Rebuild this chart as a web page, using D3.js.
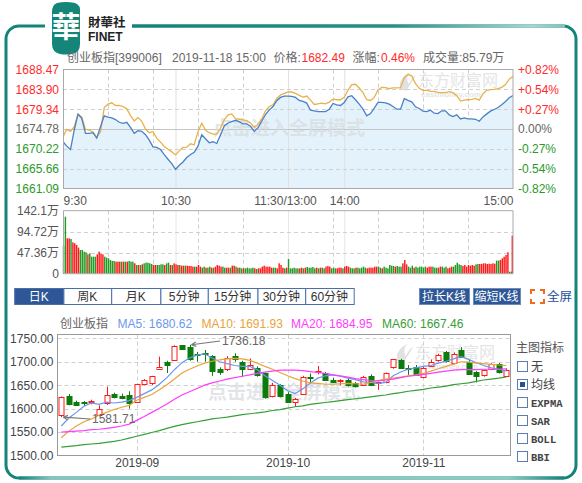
<!DOCTYPE html>
<html><head><meta charset="utf-8">
<script src="https://cdn.jsdelivr.net/npm/d3@7"></script>
<style>
body{margin:0;background:#fff;}
svg{display:block;}
</style></head><body>
<svg id="c" width="582" height="483"></svg>
<script>
// ---------------- DATA ----------------
const stockName = "创业板指[399006]";
const quoteTime = "2019-11-18 15:00";
const lastPrice = "1682.49";
const changePct = "0.46%";
const totalVol = "85.79万";

// intraday (sampled every 2 minutes), minute offsets from 9:30 (trading minutes)
const minutesAM = d3.range(0, 121, 2);
const minutesPM = d3.range(122, 241, 2);
const priceAM = [1671.84,1670.84,1670.06,1674.55,1678.18,1677.25,1673.77,1673.77,1673.93,1672.69,
1675.32,1677.80,1677.49,1677.33,1676.95,1676.33,1676.09,1676.33,1675.17,1673.77,
1674.39,1674.24,1673.47,1672.23,1670.68,1670.53,1670.06,1668.90,1667.82,1666.81,
1665.50,1666.43,1667.20,1668.21,1668.90,1669.44,1670.84,1673.47,1672.54,1671.61,
1671.84,1671.45,1673.39,1675.48,1676.17,1676.48,1676.79,1676.48,1675.94,1675.94,
1675.40,1674.24,1675.09,1676.56,1678.11,1679.19,1679.96,1681.28,1682.05,1682.36,1682.36];
const pricePM = [1682.28,1682.05,1681.35,1681.12,1680.74,1679.11,1678.96,1678.80,1678.80,1678.80,
1679.34,1680.66,1680.35,1680.19,1680.89,1682.20,1682.44,1681.51,1680.50,1679.34,
1677.80,1678.34,1679.58,1680.89,1680.89,1680.81,1680.50,1679.96,1679.34,1679.34,
1681.74,1681.35,1681.04,1679.88,1679.50,1678.88,1678.80,1679.11,1678.41,1678.34,
1678.96,1678.96,1678.03,1677.64,1678.03,1677.10,1677.33,1677.10,1677.10,1677.02,
1676.56,1677.56,1678.26,1678.88,1679.27,1679.73,1680.35,1681.12,1681.97,1682.49];
const leadAM = [1673.00,1674.70,1674.24,1675.32,1678.26,1677.49,1674.70,1674.55,1674.08,1672.85,
1674.16,1679.73,1680.50,1680.81,1680.19,1680.19,1679.96,1679.42,1677.87,1676.64,
1677.41,1676.56,1674.78,1673.93,1674.16,1672.69,1671.76,1670.76,1670.14,1669.52,
1668.82,1669.75,1670.53,1670.60,1671.38,1671.15,1674.16,1676.09,1674.47,1673.93,
1673.62,1673.62,1674.93,1676.87,1678.03,1678.26,1677.18,1677.02,1676.87,1676.71,
1676.17,1675.09,1675.86,1677.10,1678.96,1679.96,1680.35,1681.82,1682.59,1682.98,1683.29];
const leadPM = [1683.29,1682.98,1682.51,1682.13,1682.36,1681.43,1680.43,1680.58,1680.74,1680.58,
1680.97,1681.66,1681.51,1681.51,1682.05,1683.75,1684.99,1685.07,1684.22,1683.13,
1681.51,1681.35,1682.05,1683.75,1684.37,1684.29,1684.06,1684.22,1684.22,1684.29,
1686.54,1687.31,1687.00,1685.22,1684.14,1683.67,1683.67,1683.44,1683.44,1683.21,
1683.13,1683.13,1683.36,1683.13,1682.44,1681.20,1681.43,1681.51,1681.59,1681.82,
1681.43,1682.90,1683.67,1683.83,1683.91,1684.06,1684.37,1684.99,1686.23,1686.92];

// per-minute volume (万), direction r = up, g = down
const volAM = [62.5,128.6,79.8,79.8,78.3,70.8,68.6,64.8,58.8,53.5,
53.5,49.7,48.2,43.7,46.0,38.4,38.4,38.4,43.7,49.7,
45.0,43.7,38.4,36.2,34.7,30.9,28.7,28.7,27.2,27.2,
27.2,27.2,27.2,27.2,27.2,28.7,27.2,27.2,23.4,19.6,
19.6,19.6,21.1,23.4,24.9,24.9,23.4,21.9,19.6,19.6,
19.6,19.6,21.1,21.1,19.6,23.4,24.9,19.6,19.6,23.4,
21.1,19.6,19.6,18.1,18.1,18.1,18.1,17.4,17.4,15.9,
15.9,15.9,19.6,15.9,13.6,15.9,13.6,13.6,15.9,13.6,
13.6,15.9,19.6,18.1,15.9,15.9,13.6,13.6,13.6,13.6,
18.1,18.1,15.9,13.6,13.6,12.1,12.1,12.1,13.6,12.1,
12.1,13.6,12.1,10.6,12.1,12.1,15.9,18.1,15.9,15.9,
15.9,13.6,13.6,13.6,12.1,23.4,19.6,13.6,12.1,13.6,33.2];
const dirAM = "ggrrgrrrrg"+"gggrggggrr"+"rrggggggrr"+"rgrgrgggrg"+"rgrgggggrr"+"ggggrggrgr"+
"rrgrrgrrrr"+"grrrggrggr"+"grrrrggrrg"+"rrgrggrggg"+"ggrgrrrrrr"+"rrggrrrrgr"+"g";
const volPM = [12.1,12.1,13.6,12.1,12.1,12.1,13.6,12.1,13.6,15.1,
13.6,13.6,15.1,12.1,13.6,12.1,13.6,13.6,12.1,15.9,
17.4,15.9,12.1,13.6,12.1,12.1,13.6,13.6,12.1,15.9,
17.4,15.9,13.6,12.1,12.1,13.6,13.6,12.1,13.6,15.9,
13.6,12.1,13.6,13.6,13.6,15.9,15.9,15.9,13.6,12.1,
15.9,13.6,12.1,19.6,18.1,17.4,15.9,17.4,15.9,15.9,
23.4,30.9,21.1,15.9,13.6,18.1,13.6,15.9,13.6,15.9,
15.9,13.6,15.9,13.6,15.9,15.9,15.9,13.6,13.6,13.6,
15.9,15.9,13.6,15.9,12.1,13.6,15.9,15.9,19.6,24.9,
21.1,19.6,17.4,19.6,15.9,19.6,18.1,19.6,18.1,21.1,
21.9,21.9,21.9,23.4,23.4,21.9,22.6,21.9,23.4,22.6,
29.4,29.4,30.9,34.7,38.4,42.2,48.2,4.6,4.6,85.9];
const dirPM = "gggggrrgrg"+"ggggrgrggr"+"rrgggrrrgr"+"rrgggrgggg"+"grrrrrrggr"+"ggggggrggg"+
"rrrgggrggg"+"gggrrrgggr"+"rgggrrrggg"+"ggrrrrrrrg"+"grrrrrrrrr"+"ggrrrrrggr";

const priceTicks = [1688.47,1683.90,1679.34,1674.78,1670.22,1665.66,1661.09];
const priceTickLabels = ["1688.47","1683.90","1679.34","1674.78","1670.22","1665.66","1661.09"];
const pctTickLabels = ["+0.82%","+0.54%","+0.27%","0.00%","-0.27%","-0.54%","-0.82%"];
const timeTickMin = [0,60,120,150,240];
const timeTickLabels = ["9:30","10:30","11:30/13:00","14:00","15:00"];
const volTicks = [142.1,94.72,47.36,0];
const volTickLabels = ["142.1万","94.72万","47.36万","0"];

// daily K-line
const kDates = ["2019-08-19","2019-08-20","2019-08-21","2019-08-22","2019-08-23","2019-08-26","2019-08-27","2019-08-28","2019-08-29","2019-08-30",
"2019-09-02","2019-09-03","2019-09-04","2019-09-05","2019-09-06","2019-09-09","2019-09-10","2019-09-11","2019-09-12","2019-09-16",
"2019-09-17","2019-09-18","2019-09-19","2019-09-20","2019-09-23","2019-09-24","2019-09-25","2019-09-26","2019-09-27","2019-09-30",
"2019-10-08","2019-10-09","2019-10-10","2019-10-11","2019-10-14","2019-10-15","2019-10-16","2019-10-17","2019-10-18","2019-10-21",
"2019-10-22","2019-10-23","2019-10-24","2019-10-25","2019-10-28","2019-10-29","2019-10-30","2019-10-31","2019-11-01","2019-11-04",
"2019-11-05","2019-11-06","2019-11-07","2019-11-08","2019-11-11","2019-11-12","2019-11-13","2019-11-14","2019-11-15","2019-11-18"];
const kOpen = [1586,1626,1615,1614,1614,1588,1610,1631,1627,1630,1614,1652,1655,1684,1700,1704,1735,1732,1716,1718,
1712,1684,1684,1712,1700,1686,1686,1675,1627,1650,1632,1613,1632,1668,1678,1676,1662,1657,1661,1654,
1652,1670,1654,1656,1688,1704,1687,1689,1668,1692,1704,1721,1697,1725,1700,1678,1672,1685,1695,1670];
const kHigh = [1626,1631,1617,1616,1619,1607,1647,1634,1632,1637,1653,1663,1670,1711,1702,1735,1735.5,1736.18,1721,1725,
1714,1688,1712,1718,1702,1707,1690,1677,1655,1652,1635,1623,1670,1675,1691,1678,1666,1663,1665,1657,
1670,1673,1658,1677,1706,1706,1693,1693,1690,1705,1717,1723,1720,1731,1705,1680,1684,1697,1697,1686];
const kLow = [1581.71,1607,1607,1605,1609,1586,1608,1622,1620,1600,1613,1650,1650,1683,1676,1702,1725,1702,1700,1700,
1670,1672,1680,1700,1668,1682,1668,1621,1624,1624,1614,1604,1630,1655,1673,1660,1655,1650,1647,1645,
1650,1648,1640,1654,1685,1686,1672,1671,1665,1690,1700,1698,1694,1709,1672,1656,1668,1682,1675,1668];
const kClose = [1624,1610,1609,1612,1616,1600,1628,1624,1623,1612,1652,1660,1669,1689,1693,1733,1727,1706,1713,1716,
1679,1677,1707,1705,1686,1694,1672,1623,1650,1627,1616,1620,1668,1665,1681,1662,1658,1660,1650,1647,
1668,1651,1656,1675,1705,1688,1684,1672,1687,1700,1714,1701,1716,1711,1674,1670,1682,1695,1677,1682.49];
const ma5 = [1563,1580,1592,1605,1612,1609,1614,1612,1614,1617,1624,1632,1640,1652,1666,1683,1698,1708,1714,1717,
1708,1700,1696,1692,1690,1690,1683,1670,1660,1650,1638,1632,1642,1654,1665,1670,1672,1669,1665,1662,
1657,1656,1654,1656,1670,1678,1684,1687,1690,1692,1697,1701,1706,1711,1705,1698,1692,1687,1684,1680.62];
const ma10 = [1538,1552,1563,1572,1578,1586,1592,1598,1603,1607,1618,1624,1630,1640,1651,1663,1676,1684,1691,1697,
1701,1704,1706,1707,1706,1703,1697,1690,1684,1677,1670,1664,1659,1655,1654,1652,1652,1653,1654,1653,
1652,1656,1660,1663,1665,1667,1670,1672,1675,1680,1685,1690,1695,1700,1699,1697,1696,1694.5,1693,1691.93];
const ma20 = [1550,1551,1552,1553,1555,1556,1558,1560,1563,1567,1575,1583,1592,1601,1610,1620,1629,1636,1643,1650,
1655,1659,1663,1666,1669,1672,1675,1678,1680,1682,1682,1682,1681,1679,1677,1675,1672,1670,1667,1664,
1662,1660,1659,1661,1663,1666,1669,1671,1673,1675,1678,1680,1682,1683,1683,1683,1684,1684,1684,1684.95];
const ma60 = [1518,1519.5,1521,1523,1524.5,1526,1528,1530,1533,1537,1541,1545,1549,1553,1558,1562,1566,1569,1572,1575,
1578,1580,1582,1584.5,1587,1589,1591,1593,1596,1598,1601,1604,1606,1609,1611,1613,1615,1617,1619,1621,
1623,1625,1627,1629,1632,1634,1637,1639,1641,1644,1646,1648,1651,1653,1655,1658,1661,1663,1665,1667.46];
const maNames = ["MA5","MA10","MA20","MA60"];
const maLast = ["1680.62","1691.93","1684.95","1667.46"];
const kTicks = [1750,1700,1650,1600,1550,1500];
const monthTickDates = ["2019-09-02","2019-10-08","2019-11-01"];
const monthTickLabels = ["2019-09","2019-10","2019-11"];
const periodButtons = ["日K","周K","月K","5分钟","15分钟","30分钟","60分钟"];
const indicatorItems = ["无","均线","EXPMA","SAR","BOLL","BBI"];

// ---------------- STYLE ----------------
const FONT = '"Liberation Sans",Arial,"Noto Sans CJK SC",sans-serif';
const RED = "#ff2a2a", GREEN = "#2a9a2a", DKGREEN = "#0b7c0b";
const maColors = ["#6b97ee","#e8a43a","#ff3cff","#35a035"];

const svg = d3.select("#c").style("font-family", FONT);
const defs = svg.append("defs");

// ---------------- FRAME & LOGO ----------------
const teal = "#14837a";
svg.append("rect").attr("x",6).attr("y",26).attr("width",570).attr("height",452).attr("rx",13)
  .attr("fill","none").attr("stroke",teal).attr("stroke-width",3);
const gTop = defs.append("linearGradient").attr("id","gTop").attr("gradientUnits","userSpaceOnUse")
  .attr("x1",132).attr("x2",566).attr("y1",0).attr("y2",0);
[[0,teal],[0.6,"#2a8f86"],[0.92,"#a6d6d1"],[1,"#7fc0b9"]].forEach(s=>gTop.append("stop").attr("offset",s[0]).attr("stop-color",s[1]));
svg.append("line").attr("x1",132).attr("x2",565).attr("y1",26).attr("y2",26).attr("stroke","url(#gTop)").attr("stroke-width",3);
const gBot = defs.append("linearGradient").attr("id","gBot").attr("gradientUnits","userSpaceOnUse")
  .attr("x1",19).attr("x2",564).attr("y1",0).attr("y2",0);
[[0,teal],[0.06,"#86c6c0"],[0.9,"#8ccac4"],[1,teal]].forEach(s=>gBot.append("stop").attr("offset",s[0]).attr("stop-color",s[1]));
svg.append("line").attr("x1",19).attr("x2",564).attr("y1",478).attr("y2",478).attr("stroke","url(#gBot)").attr("stroke-width",3);
svg.append("rect").attr("x",45).attr("y",22).attr("width",87).attr("height",8).attr("fill","#fff");

svg.append("path").attr("d","M57,3 Q66,1 75,3 Q81,5 80,13 L80,44 Q80,53 72,54 Q66,55 60,54 Q52,52 52,44 L52,12 Q52,5 57,3 Z")
  .attr("fill","#168579");
svg.append("text").attr("x",66).attr("y",38).attr("text-anchor","middle").attr("fill","#fff")
  .attr("font-size",29).attr("font-weight","bold").attr("font-family",'"Noto Sans CJK TC","Noto Sans CJK SC",serif').text("華");
svg.append("text").attr("x",88).attr("y",27).attr("font-size",12.5).attr("font-weight","bold").attr("fill","#222")
  .attr("font-family",'"Noto Sans CJK TC","Noto Sans CJK SC",sans-serif').text("財華社");
svg.append("text").attr("x",88).attr("y",41).attr("font-size",12).attr("font-weight","bold").attr("fill","#222").text("FINET");

// ---------------- HEADER ----------------
const hdr = svg.append("text").attr("y",62).attr("font-size",12).attr("fill","#666");
[[stockName,67,"#666"],[quoteTime,172,"#666"],["价格: ",273.5,"#666"],[lastPrice,301.5,RED],
 ["涨幅: ",352.6,"#666"],[changePct,381,RED],["成交量:"+totalVol,423,"#666"]].forEach(t=>{
  hdr.append("tspan").attr("x",t[1]).attr("fill",t[2]).text(t[0]);
});

// ---------------- INTRADAY ----------------
const xT = d3.scaleLinear().domain([0,240]).range([63,513]);
const yP = d3.scaleLinear().domain([1661.09,1688.47]).range([188.5,69.5]);
const yV = d3.scaleLinear().domain([0,142.1]).range([273.7,210.7]);

const minutes = minutesAM.concat(minutesPM);
const price = priceAM.concat(pricePM);
const lead = leadAM.concat(leadPM);
const pts = minutes.map((m,i)=>({m, p:price[i], l:lead[i]}));

// grid
const gI = svg.append("g");
[1,2,3,4,5,6,7,8,9].forEach(k=>{
  const m = 24*k;
  if (m===120) return;
  gI.append("line").attr("x1",xT(m)+0.5).attr("x2",xT(m)+0.5).attr("y1",69.5).attr("y2",188.5)
    .attr("stroke","#cfcfcf").attr("stroke-dasharray","4,3");
  gI.append("line").attr("x1",xT(m)+0.5).attr("x2",xT(m)+0.5).attr("y1",210.7).attr("y2",273.7)
    .attr("stroke","#cfcfcf").attr("stroke-dasharray","4,3");
});

// area fill
const clipI = defs.append("clipPath").attr("id","clipI");
clipI.append("rect").attr("x",63).attr("y",69.5).attr("width",450).attr("height",119);
svg.append("path").datum(pts).attr("clip-path","url(#clipI)")
  .attr("d", d3.area().x(d=>xT(d.m)).y0(188.5).y1(d=>yP(d.p)))
  .attr("fill","#e4f2fc");

[60,120,150].forEach(m=>{
  svg.append("line").attr("x1",xT(m)+0.5).attr("x2",xT(m)+0.5).attr("y1",69.5).attr("y2",188.5).attr("stroke","#e0e0e0");
  svg.append("line").attr("x1",xT(m)+0.5).attr("x2",xT(m)+0.5).attr("y1",210.7).attr("y2",273.7).attr("stroke","#e6e6e6");
});
priceTicks.forEach((v,i)=>{
  if (i===0 || i===6) return;
  const y = Math.round(yP(v))+0.5;
  if (i===3) svg.append("line").attr("x1",63).attr("x2",513).attr("y1",y).attr("y2",y).attr("stroke","#c4c4c4").attr("stroke-width",1.2);
  else svg.append("line").attr("x1",63).attr("x2",513).attr("y1",y).attr("y2",y).attr("stroke","#d0d0d0").attr("stroke-dasharray","4,3");
});

// watermarks
function wmClick(cx, cy){
  svg.append("text").attr("x",cx).attr("y",cy).attr("text-anchor","middle").attr("font-size",19)
    .attr("font-weight","bold").attr("fill","#d9dde0").attr("opacity",0.75)
    .attr("font-family",'"Noto Sans CJK SC",sans-serif').text("点击进入全屏模式");
}
function wmEM(x, y){
  const g = svg.append("g").attr("opacity",0.55);
  g.append("path").attr("d",`M${x+4},${y+17} Q${x+2},${y+6} ${x+14},${y} Q${x+9},${y+7} ${x+13},${y+12} Q${x+16},${y+5} ${x+20},${y+3} Q${x+15},${y+12} ${x+10},${y+19} Z`).attr("fill","#c9c9c9");
  g.append("text").attr("x",x+22).attr("y",y+14).attr("font-size",16).attr("fill","#cfcfcf")
    .attr("font-family",'"Noto Sans CJK SC",sans-serif').text("东方财富网");
  g.append("text").attr("x",x+25).attr("y",y+25).attr("font-size",8).attr("font-weight","bold").attr("fill","#cfcfcf").text("eastmoney.com");
}
wmClick(289, 135);
wmEM(396, 72);

// lines
svg.append("path").datum(pts).attr("clip-path","url(#clipI)")
  .attr("d", d3.line().x(d=>xT(d.m)).y(d=>yP(d.l)))
  .attr("fill","none").attr("stroke","#e8b24a").attr("stroke-width",1.3);
svg.append("path").datum(pts).attr("clip-path","url(#clipI)")
  .attr("d", d3.line().x(d=>xT(d.m)).y(d=>yP(d.p)))
  .attr("fill","none").attr("stroke","#4a80c6").attr("stroke-width",1.3);

svg.append("rect").attr("x",63.5).attr("y",69.5).attr("width",449.5).attr("height",119).attr("fill","none").attr("stroke","#aaa");

// price axes
const axL = svg.append("g").attr("transform","translate(63,0)")
  .call(d3.axisLeft(yP).tickValues(priceTicks).tickSize(0).tickPadding(4).tickFormat((d,i)=>priceTickLabels[i]));
axL.select(".domain").remove();
axL.selectAll("text").attr("font-family",FONT).attr("font-size",12)
  .attr("fill",(d,i)=> i<3?RED:(i===3?"#666":GREEN));
const axR = svg.append("g").attr("transform","translate(513,0)")
  .call(d3.axisRight(yP).tickValues(priceTicks).tickSize(0).tickPadding(5).tickFormat((d,i)=>pctTickLabels[i]));
axR.select(".domain").remove();
axR.selectAll("text").attr("font-family",FONT).attr("font-size",12)
  .attr("fill",(d,i)=> i<3?RED:(i===3?"#666":GREEN));

// time axis labels
const axT = svg.append("g").attr("transform","translate(0,188.5)")
  .call(d3.axisBottom(xT).tickValues(timeTickMin).tickSize(0).tickPadding(8).tickFormat((d,i)=>timeTickLabels[i]));
axT.select(".domain").remove();
axT.selectAll("text").attr("font-family",FONT).attr("font-size",12).attr("fill","#555")
  .attr("text-anchor",(d,i)=> i===0?"start":(i===4?"end":"middle"))
  .attr("dx",(d,i)=> i===2?-3:0);

// volume
const vols = [];
volAM.forEach((v,i)=>vols.push({m:i, v, d:dirAM[i]}));
volPM.forEach((v,i)=>vols.push({m:121+i, v, d:dirPM[i]}));
[94.72,47.36].forEach(v=>{
  svg.append("line").attr("x1",63).attr("x2",513).attr("y1",Math.round(yV(v))+0.5).attr("y2",Math.round(yV(v))+0.5)
    .attr("stroke","#d0d0d0").attr("stroke-dasharray","4,3");
});
svg.append("g").selectAll("rect").data(vols).join("rect")
  .attr("x",d=>Math.min(xT(d.m)-0.2, 511.6)).attr("width",1.45)
  .attr("y",d=>yV(d.v)).attr("height",d=>yV(0)-yV(d.v))
  .attr("fill",d=>d.d==="r"?"#ff1a1a":"#239a23");
svg.append("path").attr("d","M63.5,210.7 L63.5,273.7 L513,273.7 L513,210.7 Z").attr("fill","none").attr("stroke","#aaa");
const axV = svg.append("g").attr("transform","translate(63,0)")
  .call(d3.axisLeft(yV).tickValues(volTicks).tickSize(0).tickPadding(4).tickFormat((d,i)=>volTickLabels[i]));
axV.select(".domain").remove();
axV.selectAll("text").attr("font-family",FONT).attr("font-size",12).attr("fill","#555");

// ---------------- BUTTONS ----------------
const btnX = [14.2,63.4,111.2,160.4,207.8,257.5,305.2,353.7];
periodButtons.forEach((b,i)=>{
  const x0 = btnX[i], x1 = btnX[i+1];
  svg.append("rect").attr("x",x0+0.5).attr("y",288.5).attr("width",x1-x0).attr("height",16)
    .attr("fill", i===0?"#2d5796":"#fff").attr("stroke","#4a6ea8");
  svg.append("text").attr("x",(x0+x1)/2).attr("y",301).attr("text-anchor","middle").attr("font-size",12)
    .attr("fill", i===0?"#fff":"#333").text(b);
});
[["拉长K线",419,469],["缩短K线",473,520]].forEach(b=>{
  svg.append("rect").attr("x",b[1]+0.5).attr("y",288.5).attr("width",b[2]-b[1]).attr("height",16)
    .attr("fill","#2d5796").attr("stroke","#6d8cbc");
  svg.append("text").attr("x",(b[1]+b[2])/2).attr("y",301).attr("text-anchor","middle").attr("font-size",12)
    .attr("fill","#fff").text(b[0]);
});
const ic = svg.append("g").attr("stroke","#f26a1b").attr("stroke-width",2).attr("fill","none");
["M531,294 L531,290 L535,290","M540,290 L544,290 L544,294","M531,299 L531,303 L535,303","M540,303 L544,303 L544,299"]
  .forEach(d=>ic.append("path").attr("d",d));
svg.append("text").attr("x",547).attr("y",301).attr("font-size",12.5).attr("fill","#1f4f9a").text("全屏");

// ---------------- K-LINE ----------------
const lg = svg.append("text").attr("y",327.5).attr("font-size",12);
lg.append("tspan").attr("x",60).attr("fill","#666").text("创业板指");
[117.5,201.5,291,382].forEach((x,i)=>lg.append("tspan").attr("x",x).attr("fill",maColors[i]).text(maNames[i]+": "+maLast[i]));

const xK = d3.scalePoint().domain(kDates).range([61.3,506.3]);
const yK = d3.scaleLinear().domain([1500,1758.1]).range([455.5,334.5]);
const clipK = defs.append("clipPath").attr("id","clipK");
clipK.append("rect").attr("x",57.5).attr("y",334.5).attr("width",453).attr("height",121);

kTicks.forEach(v=>{
  if (v===1500) return;
  const y = Math.round(yK(v))+0.5;
  svg.append("line").attr("x1",57.5).attr("x2",510.5).attr("y1",y).attr("y2",y).attr("stroke","#d0d0d0").attr("stroke-dasharray","4,3");
});
monthTickDates.forEach(d=>{
  const x = Math.round(xK(d))+0.5;
  svg.append("line").attr("x1",x).attr("x2",x).attr("y1",334.5).attr("y2",455.5).attr("stroke","#d0d0d0").attr("stroke-dasharray","4,3");
});
wmClick(284, 399);
wmEM(393, 344);

const cg = svg.append("g").attr("clip-path","url(#clipK)");
kDates.forEach((d,i)=>{
  const up = kClose[i] >= kOpen[i];
  const col = up ? "#ff1a1a" : DKGREEN;
  const x = Math.round(xK(d))+0.5;
  cg.append("line").attr("x1",x).attr("x2",x).attr("y1",yK(kHigh[i])).attr("y2",yK(kLow[i])).attr("stroke",col);
  const yt = yK(Math.max(kOpen[i],kClose[i])), yb = yK(Math.min(kOpen[i],kClose[i]));
  cg.append("rect").attr("x",x-2.5).attr("y",Math.round(yt)+0.5).attr("width",5).attr("height",Math.max(1,Math.round(yb-yt)))
    .attr("fill", up ? "#fff" : DKGREEN).attr("stroke",col);
});
[ma5,ma10,ma20,ma60].forEach((arr,k)=>{
  cg.append("path").datum(arr).attr("d", d3.line().x((v,i)=>xK(kDates[i])).y(v=>yK(v)))
    .attr("fill","none").attr("stroke",maColors[k]).attr("stroke-width",1.2);
});
svg.append("rect").attr("x",57.5).attr("y",334.5).attr("width",453).attr("height",121).attr("fill","none").attr("stroke","#999");

// high / low annotations
const hiI = kHigh.indexOf(d3.max(kHigh)), loI = kLow.indexOf(d3.min(kLow));
function annot(i, val, lx, ly){
  const x0 = xK(kDates[i]) + 2, y0 = yK(val);
  svg.append("line").attr("x1",x0).attr("y1",y0).attr("x2",lx-2).attr("y2",ly-4).attr("stroke","#777").attr("stroke-width",1.2);
  const ang = Math.atan2(ly-4-y0, lx-2-x0);
  const ah = 5;
  svg.append("path").attr("d",`M${x0},${y0} L${x0+ah*Math.cos(ang-0.45)},${y0+ah*Math.sin(ang-0.45)} M${x0},${y0} L${x0+ah*Math.cos(ang+0.45)},${y0+ah*Math.sin(ang+0.45)}`)
    .attr("stroke","#777").attr("stroke-width",1.2).attr("fill","none");
  svg.append("text").attr("x",lx).attr("y",ly).attr("font-size",12).attr("fill","#666").text(d3.format(".2f")(val));
}
annot(hiI, kHigh[hiI], 222, 345);
annot(loI, kLow[loI], 92, 423);

const axK = svg.append("g").attr("transform","translate(57.5,0)")
  .call(d3.axisLeft(yK).tickValues(kTicks).tickSize(0).tickPadding(4).tickFormat(d3.format(".2f")));
axK.select(".domain").remove();
axK.selectAll("text").attr("font-family",FONT).attr("font-size",12).attr("fill","#444");
const axM = svg.append("g").attr("transform","translate(0,455.5)")
  .call(d3.axisBottom(xK).tickValues(monthTickDates).tickSize(0).tickPadding(3).tickFormat((d,i)=>monthTickLabels[i]));
axM.select(".domain").remove();
axM.selectAll("text").attr("font-family",FONT).attr("font-size",12).attr("fill","#444");

// indicator panel
svg.append("text").attr("x",516).attr("y",352).attr("font-size",12).attr("fill","#555").text("主图指标");
const rowY = [367,385,403,421,439,457];
indicatorItems.forEach((t,i)=>{
  const y = rowY[i];
  svg.append("rect").attr("x",517.5).attr("y",y-5.5).attr("width",10).attr("height",10)
    .attr("fill","#fff").attr("stroke","#5a7db5");
  if (i===1) svg.append("rect").attr("x",520).attr("y",y-3).attr("width",5).attr("height",5).attr("fill","#2d4f8e");
  const isCJK = /[\u4e00-\u9fff]/.test(t);
  svg.append("text").attr("x",531).attr("y",y+4).attr("font-size",isCJK?12:10.5)
    .attr("font-family", isCJK? FONT : '"Liberation Mono","DejaVu Sans Mono",monospace')
    .attr("font-weight", isCJK?"normal":"bold")
    .attr("fill","#444").text(t);
});
</script>
</body></html>
